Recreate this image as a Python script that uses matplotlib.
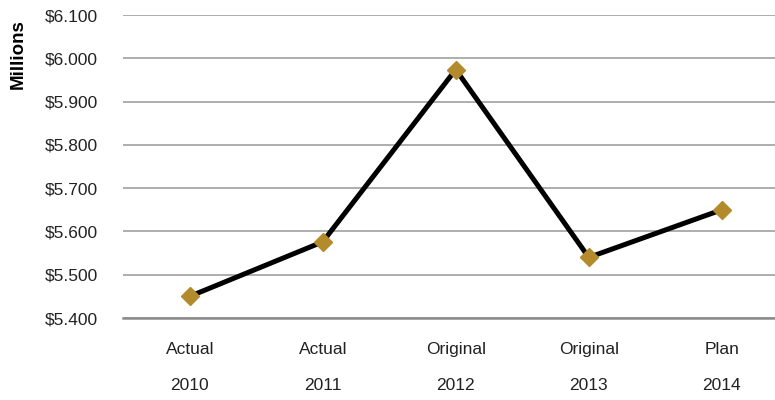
import numpy as np
import matplotlib.pyplot as plt
from matplotlib.ticker import FuncFormatter

plt.rcParams['font.family'] = ['Liberation Sans', 'DejaVu Sans']

# --- data (millions)
categories = ["Actual\n\n2010", "Actual\n\n2011", "Original\n\n2012", "Original\n\n2013", "Plan\n\n2014"]
values = [5.450, 5.576, 5.974, 5.540, 5.650]

fig = plt.figure(figsize=(7.75, 4.0), dpi=100)
ax = fig.add_axes([0.159, 0.205, 0.841, 0.7575])

x = np.arange(len(categories))
ax.plot(x, values, "-", color="black", lw=3.6, zorder=3)
ax.plot(x, values, "D", color="#B38B2C", markersize=9.5, mec="#B38B2C", zorder=4)

ax.set_ylim(5.4, 6.1)
ax.set_yticks(np.arange(5.4, 6.1001, 0.1))
ax.yaxis.set_major_formatter(FuncFormatter(lambda v, p: f"${v:.3f}"))
ax.set_xlim(-0.5, 4.4)
ax.set_xticks(x)
ax.set_xticklabels(categories, linespacing=1.28)

ax.grid(axis="y", color="#a0a0a0", lw=1.2)
ax.set_axisbelow(True)
for s in ["top", "right", "left"]:
    ax.spines[s].set_visible(False)
ax.spines["bottom"].set_color("#8c8c8c")
ax.spines["bottom"].set_linewidth(1.8)

ax.tick_params(axis="both", length=0, labelsize=12.5, colors="#222222")
ax.tick_params(axis="y", pad=18)
ax.tick_params(axis="x", pad=17)

ax.set_ylabel("Millions", fontsize=13.5, fontweight="bold")
ax.yaxis.set_label_coords(-0.148, 0.87)

plt.savefig("out.png", dpi=100)
